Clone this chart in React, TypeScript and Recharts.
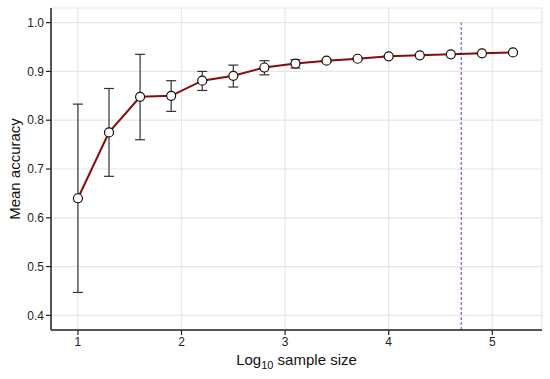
import React from "react";
import {
  ComposedChart,
  Line,
  XAxis,
  YAxis,
  CartesianGrid,
  ErrorBar,
  ReferenceLine,
  Label,
} from "recharts";

const logSampleSize = [1, 1.3, 1.6, 1.9, 2.2, 2.5, 2.8, 3.1, 3.4, 3.7, 4.0, 4.3, 4.6, 4.9, 5.2];
const meanAccuracy = [0.64, 0.775, 0.848, 0.85, 0.881, 0.891, 0.908, 0.916, 0.922, 0.926, 0.931, 0.933, 0.935, 0.937, 0.939];
const lowerBound = [0.447, 0.685, 0.76, 0.818, 0.861, 0.868, 0.893, 0.907, 0.919, 0.924, 0.93, 0.932, 0.934, 0.936, 0.938];
const upperBound = [0.833, 0.865, 0.935, 0.881, 0.9, 0.913, 0.922, 0.924, 0.925, 0.928, 0.932, 0.934, 0.936, 0.938, 0.94];
const xTicks = [1, 2, 3, 4, 5];
const yTicks = [0.4, 0.5, 0.6, 0.7, 0.8, 0.9, 1.0];
const cutoff = 4.7;

const data = logSampleSize.map((x, i) => ({
  x,
  mean: meanAccuracy[i],
  err: [meanAccuracy[i] - lowerBound[i], upperBound[i] - meanAccuracy[i]],
}));

const FONT = "'Liberation Sans', Arial, sans-serif";
const tickStyle = { fontSize: 12, fill: "#222", fontFamily: FONT };

export default function App() {
  return (
    <div style={{ position: "absolute", left: 0, top: 0, background: "#fff" }}>
      <ComposedChart
        width={550}
        height={379}
        data={data}
        margin={{ top: 8, right: 8, left: 0, bottom: 0 }}
      >
        <CartesianGrid stroke="#e6e6e6" strokeWidth={1.2} />
        <XAxis
          type="number"
          dataKey="x"
          domain={[0.74, 5.48]}
          ticks={xTicks}
          allowDataOverflow
          height={49}
          tick={tickStyle}
          tickSize={5}
          tickLine={{ stroke: "#222", strokeWidth: 1.2 }}
          axisLine={{ stroke: "#222", strokeWidth: 1.5 }}
        >
          <Label
            content={({ viewBox }: any) => (
              <text
                x={viewBox.x + viewBox.width / 2}
                y={viewBox.y + 35}
                textAnchor="middle"
                fontSize={15}
                fontFamily={FONT}
                fill="#111"
              >
                Log
                <tspan fontSize={11} dy={4}>10</tspan>
                <tspan dy={-4}> sample size</tspan>
              </text>
            )}
          />
        </XAxis>
        <YAxis
          type="number"
          domain={[0.37, 1.03]}
          ticks={yTicks}
          allowDataOverflow
          width={51}
          tick={tickStyle}
          tickSize={5}
          tickFormatter={(v: number) => v.toFixed(1)}
          tickLine={{ stroke: "#222", strokeWidth: 1.2 }}
          axisLine={{ stroke: "#222", strokeWidth: 1.5 }}
        >
          <Label
            content={({ viewBox }: any) => {
              const cx = 14;
              const cy = viewBox.y + viewBox.height / 2;
              return (
                <text
                  x={cx}
                  y={cy}
                  transform={`rotate(-90 ${cx} ${cy})`}
                  textAnchor="middle"
                  dominantBaseline="central"
                  fontSize={15}
                  fontFamily={FONT}
                  fill="#111"
                >
                  Mean accuracy
                </text>
              );
            }}
          />
        </YAxis>
        <ReferenceLine
          segment={[
            { x: cutoff, y: 0.37 },
            { x: cutoff, y: 1.0 },
          ]}
          stroke="#3b3bff"
          strokeWidth={1}
          strokeDasharray="3 2"
        />
        <Line
          type="linear"
          dataKey="mean"
          stroke="#8b0a0a"
          strokeWidth={2}
          isAnimationActive={false}
          dot={{ r: 4.5, fill: "#fff", stroke: "#111", strokeWidth: 1.2 }}
          activeDot={false}
        >
          <ErrorBar dataKey="err" direction="y" width={5} stroke="#333" strokeWidth={1.2} isAnimationActive={false} />
        </Line>
      </ComposedChart>
    </div>
  );
}
